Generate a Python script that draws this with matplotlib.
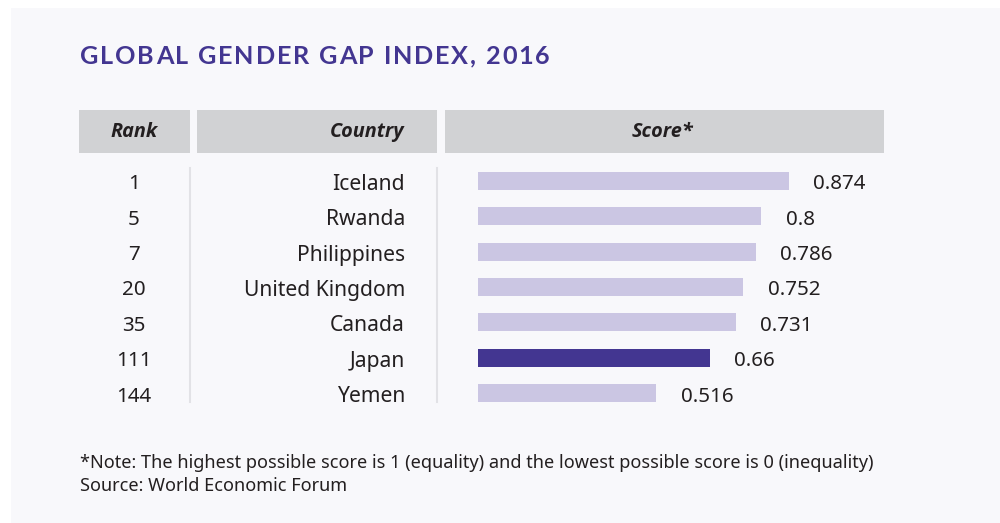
import matplotlib
matplotlib.use("Agg")
import matplotlib.pyplot as plt
import matplotlib.transforms as mtransforms
from matplotlib.patches import Rectangle
from matplotlib.lines import Line2D
from matplotlib import font_manager

# data
ranks = [1, 5, 7, 20, 35, 111, 144]
countries = ["Iceland", "Rwanda", "Philippines", "United Kingdom", "Canada", "Japan", "Yemen"]
scores = [0.874, 0.8, 0.786, 0.752, 0.731, 0.66, 0.516]
score_labels = ["0.874", "0.8", "0.786", "0.752", "0.731", "0.66", "0.516"]
highlight = "Japan"
headers = ["Rank", "Country", "Score*"]
title = "GLOBAL GENDER GAP INDEX, 2016"

W, H = 1000, 523
purple = "#433691"
light = "#cbc6e3"
grey_box = "#d1d2d4"
txt = "#231f20"

fl = font_manager.fontManager.ttflist
names = {f.name for f in fl}
main_font = "Noto Sans" if "Noto Sans" in names else "DejaVu Sans"
title_font = "Lato" if "Lato" in names else main_font
# header font: need a real bold italic face
hdr_font = main_font
for cand in ["Noto Sans", "Open Sans", "Lato", "Roboto", "DejaVu Sans"]:
    if any(f.name == cand and f.style == "italic" and f.weight >= 600 for f in fl):
        hdr_font = cand
        break

fig = plt.figure(figsize=(W / 100, H / 100), dpi=100)
fig.patch.set_facecolor("white")
renderer = fig.canvas.get_renderer()

def fx(px):
    return px / W

def fy(py):
    return 1 - py / H

# panel background
fig.add_artist(Rectangle((fx(11), 0), 1 - fx(11), fy(8), transform=fig.transFigure,
                         facecolor="#f8f8fb", edgecolor="none", zorder=-10))

# title with letter spacing
tracking = 1.8  # px between letters
xpos = 80
tkw = dict(fontsize=18.2, fontweight="bold", family=title_font)
for ch in title:
    t = fig.text(fx(xpos), fy(56), ch, color=purple, va="center", ha="left", **tkw)
    if ch == " ":
        w = fig.text(0, 0, "a a", **tkw)
        wa = fig.text(0, 0, "aa", **tkw)
        adv = w.get_window_extent(renderer).width - wa.get_window_extent(renderer).width
        w.remove()
        wa.remove()
    else:
        adv = t.get_window_extent(renderer).width
    xpos += adv + tracking

# header boxes
boxes = [(79, 190), (197, 437), (445, 884)]
for (l, r) in boxes:
    fig.add_artist(Rectangle((fx(l), fy(153)), fx(r - l), (153 - 110) / H,
                             transform=fig.transFigure, facecolor=grey_box,
                             edgecolor="none"))
hdr_kw = dict(fontsize=14.3, style="italic", fontweight="bold", family=hdr_font,
              color=txt, va="center")
fig.text(fx(134), fy(132), headers[0], ha="center", **hdr_kw)
fig.text(fx(404), fy(132), headers[1], ha="right", **hdr_kw)
fig.text(fx(662), fy(132), headers[2], ha="center", **hdr_kw)

# separators
for x in (190, 437):
    fig.add_artist(Line2D([fx(x), fx(x)], [fy(168), fy(402)], transform=fig.transFigure,
                          color="#e2e2e6", lw=1.5))

# bar axes
px_per_unit = 369
ax_left, ax_right = 478, 900
row_top, row_bot = 163.3, 410.7
ax = fig.add_axes([fx(ax_left), fy(row_bot), fx(ax_right - ax_left), (row_bot - row_top) / H])
ax.set_facecolor("none")
x0 = 12 / px_per_unit
ax.set_xlim(x0, x0 + (ax_right - ax_left) / px_per_unit)
ax.set_ylim(len(countries) - 0.5, -0.5)
ax.axis("off")

ypos = list(range(len(countries)))
colors = [purple if c == highlight else light for c in countries]
ax.barh(ypos, scores, height=0.51, color=colors)

for y, s, lab in zip(ypos, scores, score_labels):
    ax.annotate(lab, (s, y), xytext=(17.5, -2.5), textcoords="offset points",
                ha="left", va="center", fontsize=14.8, family=main_font, color=txt)

# table text columns tied to row positions
blend = mtransforms.blended_transform_factory(fig.transFigure, ax.transData)
shift = mtransforms.offset_copy(blend, fig=fig, x=0, y=-2.5, units="points")
for y, r, c in zip(ypos, ranks, countries):
    fig.text(fx(134), y, str(r), transform=shift, ha="center", va="center",
             fontsize=14.8, family=main_font, color=txt)
    fig.text(fx(405), y, c, transform=shift, ha="right", va="center",
             fontsize=15.2, family=main_font, color=txt)

# notes
fig.text(fx(80), fy(463), "*Note: The highest possible score is 1 (equality) and the lowest possible score is 0 (inequality)",
         ha="left", va="center", fontsize=13.05, family=main_font, color=txt)
fig.text(fx(80), fy(486), "Source: World Economic Forum",
         ha="left", va="center", fontsize=13.05, family=main_font, color=txt)

fig.savefig("out.png", dpi=100, facecolor=fig.get_facecolor())
